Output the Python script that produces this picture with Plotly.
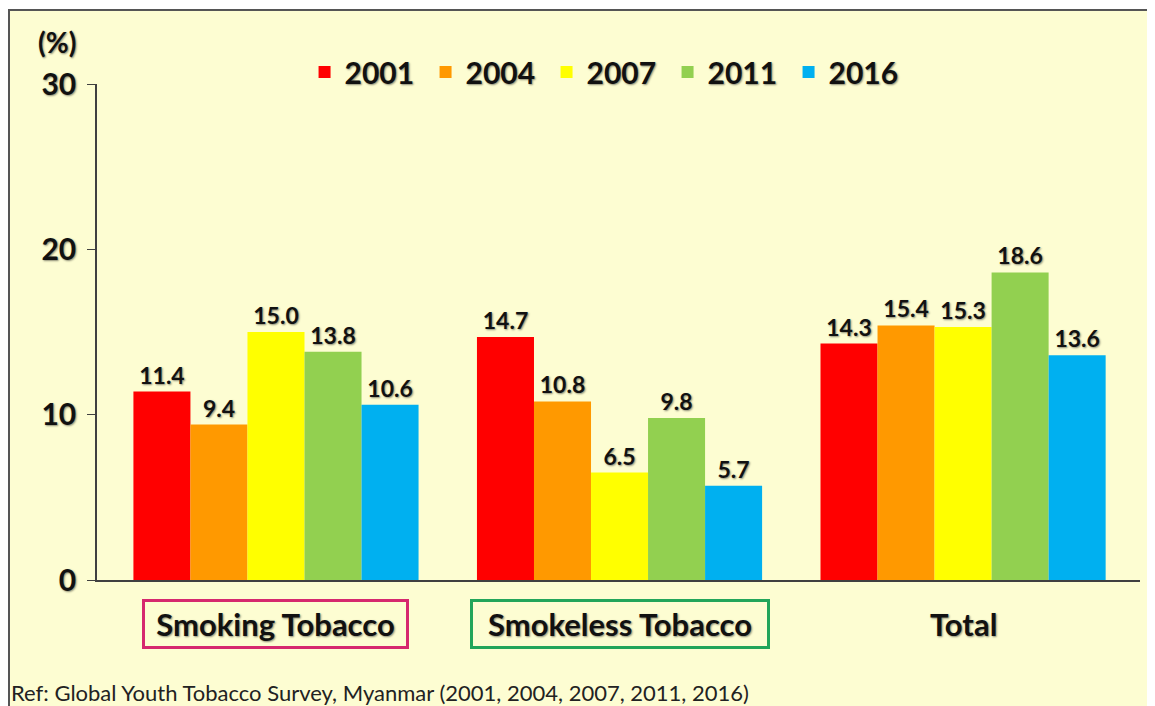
import plotly.graph_objects as go

categories = ["Smoking Tobacco", "Smokeless Tobacco", "Total"]
years = ["2001", "2004", "2007", "2011", "2016"]
values = {
    "2001": [11.4, 14.7, 14.3],
    "2004": [9.4, 10.8, 15.4],
    "2007": [15.0, 6.5, 15.3],
    "2011": [13.8, 9.8, 18.6],
    "2016": [10.6, 5.7, 13.6],
}
colors = ["#FF0000", "#FF9900", "#FFFF00", "#92D050", "#00B0F0"]
y_ticks = [0, 10, 20, 30]
box_colors = {"Smoking Tobacco": "#D6286E", "Smokeless Tobacco": "#22A55A", "Total": None}
box_widths = {"Smoking Tobacco": 255, "Smokeless Tobacco": 288, "Total": None}
ref_text = "Ref: Global Youth Tobacco Survey, Myanmar (2001, 2004, 2007, 2011, 2016)"

FONT = "Lato"
BG = "#FDFDD2"
SHADOW = "1px 1px 2px rgba(0,0,0,0.45)"

# page body adds an 8px margin; figure is sized so it fills the window exactly
W, H = 1147, 698
L, R, T, B = 89, 15, 76, 126
PW, PH = W - L - R, H - T - B

fig = go.Figure()
for yr, col in zip(years, colors):
    fig.add_trace(go.Bar(
        name=yr, x=categories, y=values[yr],
        marker=dict(color=col, line=dict(width=14, color="rgba(0,0,0,0)")),
        text=[f"{v:.1f}" for v in values[yr]],
        textposition="outside", cliponaxis=False,
        textfont=dict(family=FONT, size=23, color="#111111", weight="bold", shadow=SHADOW),
    ))

fig.update_layout(
    width=W, height=H,
    margin=dict(l=L, r=R, t=T, b=B, autoexpand=False),
    paper_bgcolor="white", plot_bgcolor="rgba(0,0,0,0)",
    barmode="group", bargap=0.17, bargroupgap=0,
    showlegend=True,
    legend=dict(orientation="h", x=0.199, xanchor="left", y=1.024, yanchor="middle",
                bgcolor="rgba(0,0,0,0)", entrywidth=76, entrywidthmode="pixels",
                font=dict(family=FONT, size=30, color="#111111", weight="bold", shadow=SHADOW),
                itemsizing="constant"),
    xaxis=dict(range=[-0.521, 2.515], showticklabels=False, ticks="",
               showline=True, linecolor="#404040", linewidth=1.5, showgrid=False, zeroline=False),
    yaxis=dict(range=[0, 30], tickvals=y_ticks, ticks="outside", ticklen=8, tickcolor="#404040",
               showline=True, linecolor="#404040", linewidth=1.5, showgrid=False, zeroline=False,
               ticklabelstandoff=5,
               tickfont=dict(family=FONT, size=30, color="#111111", weight="bold", shadow=SHADOW)),
)

# background panel with border
fig.add_shape(type="rect", xref="paper", yref="paper", layer="below",
              x0=(1 - L) / PW, x1=1.3, y0=-0.4, y1=(PH + T - 2) / PH,
              fillcolor=BG, line=dict(color="#555555", width=2))

# category labels
for cat in categories:
    bc = box_colors[cat]
    ann = dict(x=cat, xref="x", y=-(624 - 580) / PH, yref="paper", yanchor="middle",
               text=cat, showarrow=False,
               font=dict(family=FONT, size=31, color="#111111", weight="bold", shadow=SHADOW))
    if bc:
        ann.update(bordercolor=bc, borderwidth=3, borderpad=3,
                   width=box_widths[cat], height=38)
    fig.add_annotation(**ann)

fig.add_annotation(x=(28 - L) / PW, xref="paper", xanchor="left", y=(PH + T - 34) / PH, yref="paper",
                   yanchor="middle", text="(%)", showarrow=False,
                   font=dict(family=FONT, size=28, color="#111111", weight="bold", shadow=SHADOW))
fig.add_annotation(x=(1 - L) / PW, xref="paper", xanchor="left", y=-(684 - (PH + T)) / PH, yref="paper",
                   yanchor="middle", text=ref_text, showarrow=False,
                   font=dict(family=FONT, size=22, color="#222222"))

fig.write_html("out.html")
